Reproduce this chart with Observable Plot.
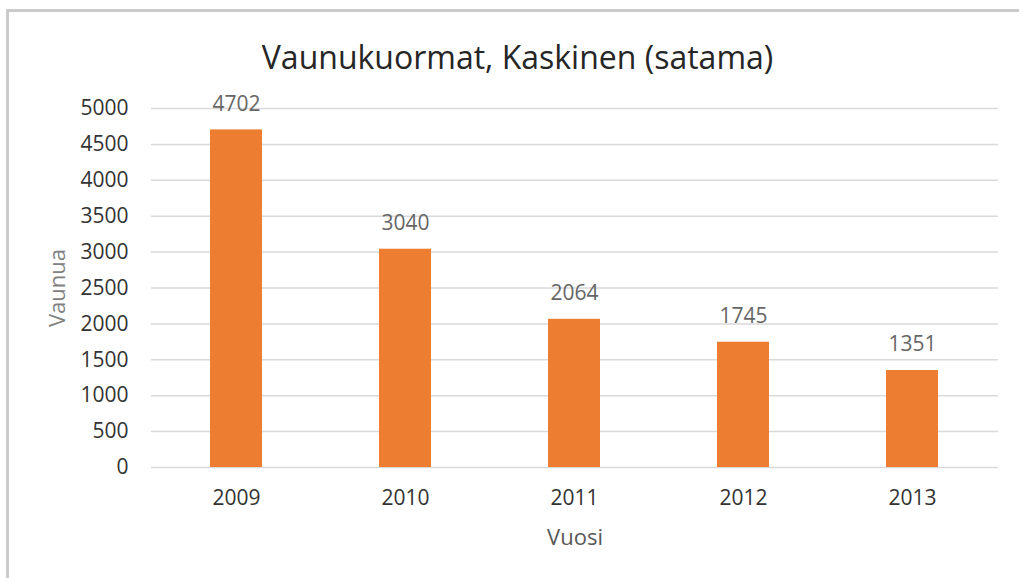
<!DOCTYPE html>
<html>
<head>
<meta charset="utf-8">
<script src="https://cdn.jsdelivr.net/npm/d3@7"></script>
<script src="https://cdn.jsdelivr.net/npm/@observablehq/plot@0.6"></script>
<style>
  html, body { margin: 0; padding: 0; background: #fff; }
  #wrap {
    position: absolute; left: 6px; top: 9px;
    width: 1013px; height: 569px;
    border-left: 3px solid #cbcbcb; border-top: 3px solid #cbcbcb;
    font-family: "Open Sans", sans-serif;
  }
  #title {
    height: 68px; box-sizing: border-box; padding-top: 27px;
    line-height: 36px; font-size: 32px; color: #262626;
    text-align: center; padding-left: 4px; white-space: nowrap;
  }
</style>
</head>
<body>
<div id="wrap">
  <div id="title">Vaunukuormat, Kaskinen (satama)</div>
  <div id="chart"></div>
</div>
<script>
const years = ["2009", "2010", "2011", "2012", "2013"];
const wagons = [4702, 3040, 2064, 1745, 1351];
const yTicks = [0, 500, 1000, 1500, 2000, 2500, 3000, 3500, 4000, 4500, 5000];

const data = years.map((y, i) => ({year: y, value: wagons[i]}));

const chart = Plot.plot({
  width: 1010,
  height: 498,
  marginLeft: 142,
  marginRight: 21,
  marginTop: 28,
  marginBottom: 111,
  style: {fontFamily: "Open Sans, sans-serif", fontSize: "21px", overflow: "visible"},
  x: {domain: years, paddingInner: 0.69, paddingOuter: 0.345, label: null},
  y: {domain: [0, 5000], label: null},
  marks: [
    Plot.gridY(yTicks, {stroke: "#d9d9d9", strokeOpacity: 1, strokeWidth: 1.5}),
    Plot.barY(data, {x: "year", y: "value", fill: "#ED7D31"}),
    Plot.text(data, {x: "year", y: "value", text: d => String(d.value), dy: -26, fill: "#666666", fontSize: 21}),
    Plot.axisY(yTicks, {tickSize: 0, tickPadding: 23, fill: "#333333", fontSize: 21, label: null, tickFormat: d => String(d)}),
    Plot.axisX({tickSize: 0, tickPadding: 23, fill: "#333333", fontSize: 21, label: null}),
    Plot.text(["Vaunua"], {frameAnchor: "left", textAnchor: "middle", dx: -94, rotate: -90, fill: "#808080", fontSize: 22}),
    Plot.text(["Vuosi"], {frameAnchor: "bottom", dy: 77, fill: "#595959", fontSize: 22})
  ]
});
document.getElementById("chart").appendChild(chart);
</script>
</body>
</html>
